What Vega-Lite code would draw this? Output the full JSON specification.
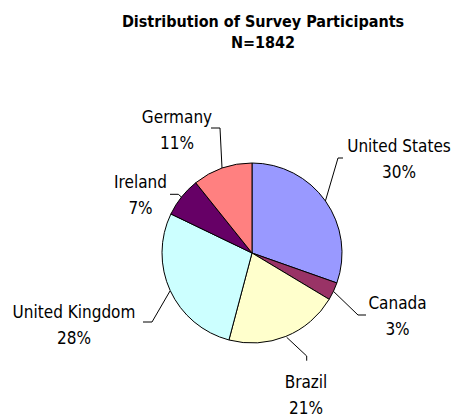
{
  "$schema": "https://vega.github.io/schema/vega-lite/v6.json",
  "autosize": "none",
  "padding": {"left": 49, "top": 89, "right": 0, "bottom": 0},
  "width": 406,
  "height": 328,
  "background": "white",
  "view": {"stroke": null},
  "title": {
    "text": ["Distribution of Survey Participants", "N=1842"],
    "font": "DejaVu Sans Condensed",
    "fontSize": 16,
    "fontWeight": "bold",
    "color": "black",
    "lineHeight": 21,
    "anchor": "middle",
    "frame": "group",
    "dx": 11,
    "offset": 38
  },
  "datasets": {
    "slices": [
      {"country": "United States", "n": 560, "idx": 1},
      {"country": "Canada", "n": 59, "idx": 2},
      {"country": "Brazil", "n": 378, "idx": 3},
      {"country": "United Kingdom", "n": 516, "idx": 4},
      {"country": "Ireland", "n": 131, "idx": 5},
      {"country": "Germany", "n": 198, "idx": 6}
    ],
    "labels": [
      {"country": "United States", "label": "United States\n30%", "lx": 147, "ly": 101},
      {"country": "Canada", "label": "Canada\n3%", "lx": 145.5, "ly": -56},
      {"country": "Brazil", "label": "Brazil\n21%", "lx": 54, "ly": -135},
      {"country": "United Kingdom", "label": "United Kingdom\n28%", "lx": -178, "ly": -65},
      {"country": "Ireland", "label": "Ireland\n7%", "lx": -111.5, "ly": 65},
      {"country": "Germany", "label": "Germany\n11%", "lx": -75, "ly": 130}
    ],
    "leaders": [
      {"country": "United States", "step": 1, "x": 91, "y": 95},
      {"country": "United States", "step": 2, "x": 86, "y": 95},
      {"country": "United States", "step": 3, "x": 73.4, "y": 52},
      {"country": "Canada", "step": 1, "x": 114, "y": -62},
      {"country": "Canada", "step": 2, "x": 106, "y": -62},
      {"country": "Canada", "step": 3, "x": 81.4, "y": -38.3},
      {"country": "Brazil", "step": 1, "x": 54.7, "y": -107.7},
      {"country": "Brazil", "step": 2, "x": 54.7, "y": -103},
      {"country": "Brazil", "step": 3, "x": 34.7, "y": -84.3},
      {"country": "United Kingdom", "step": 1, "x": -109, "y": -69},
      {"country": "United Kingdom", "step": 2, "x": -100, "y": -69},
      {"country": "United Kingdom", "step": 3, "x": -82, "y": -38},
      {"country": "Ireland", "step": 1, "x": -82, "y": 58.7},
      {"country": "Ireland", "step": 2, "x": -73.7, "y": 58.7},
      {"country": "Ireland", "step": 3, "x": -70.3, "y": 55.7},
      {"country": "Germany", "step": 1, "x": -41, "y": 125},
      {"country": "Germany", "step": 2, "x": -32, "y": 125},
      {"country": "Germany", "step": 3, "x": -30, "y": 85}
    ]
  },
  "layer": [
    {
      "data": {"name": "slices"},
      "mark": {"type": "arc", "outerRadius": 90, "stroke": "black", "strokeWidth": 1},
      "encoding": {
        "theta": {"field": "n", "type": "quantitative", "stack": true},
        "order": {"field": "idx", "type": "quantitative"},
        "color": {
          "field": "country",
          "type": "nominal",
          "legend": null,
          "scale": {
            "domain": ["United States", "Canada", "Brazil", "United Kingdom", "Ireland", "Germany"],
            "range": ["#9999FF", "#993366", "#FFFFCC", "#CCFFFF", "#660066", "#FF8080"]
          }
        }
      }
    },
    {
      "data": {"name": "leaders"},
      "mark": {"type": "line", "color": "black", "strokeWidth": 1, "interpolate": "linear"},
      "encoding": {
        "x": {"field": "x", "type": "quantitative", "axis": null, "scale": {"domain": [-203, 203], "nice": false, "zero": false}},
        "y": {"field": "y", "type": "quantitative", "axis": null, "scale": {"domain": [-164, 164], "nice": false, "zero": false}},
        "detail": {"field": "country", "type": "nominal"},
        "order": {"field": "step", "type": "quantitative"}
      }
    },
    {
      "data": {"name": "labels"},
      "mark": {
        "type": "text",
        "font": "DejaVu Sans Condensed",
        "fontSize": 17,
        "lineHeight": 26,
        "lineBreak": "\n",
        "align": "center",
        "baseline": "alphabetic",
        "color": "black"
      },
      "encoding": {
        "x": {"field": "lx", "type": "quantitative", "axis": null, "scale": {"domain": [-203, 203], "nice": false, "zero": false}},
        "y": {"field": "ly", "type": "quantitative", "axis": null, "scale": {"domain": [-164, 164], "nice": false, "zero": false}},
        "text": {"field": "label", "type": "nominal"}
      }
    }
  ]
}
